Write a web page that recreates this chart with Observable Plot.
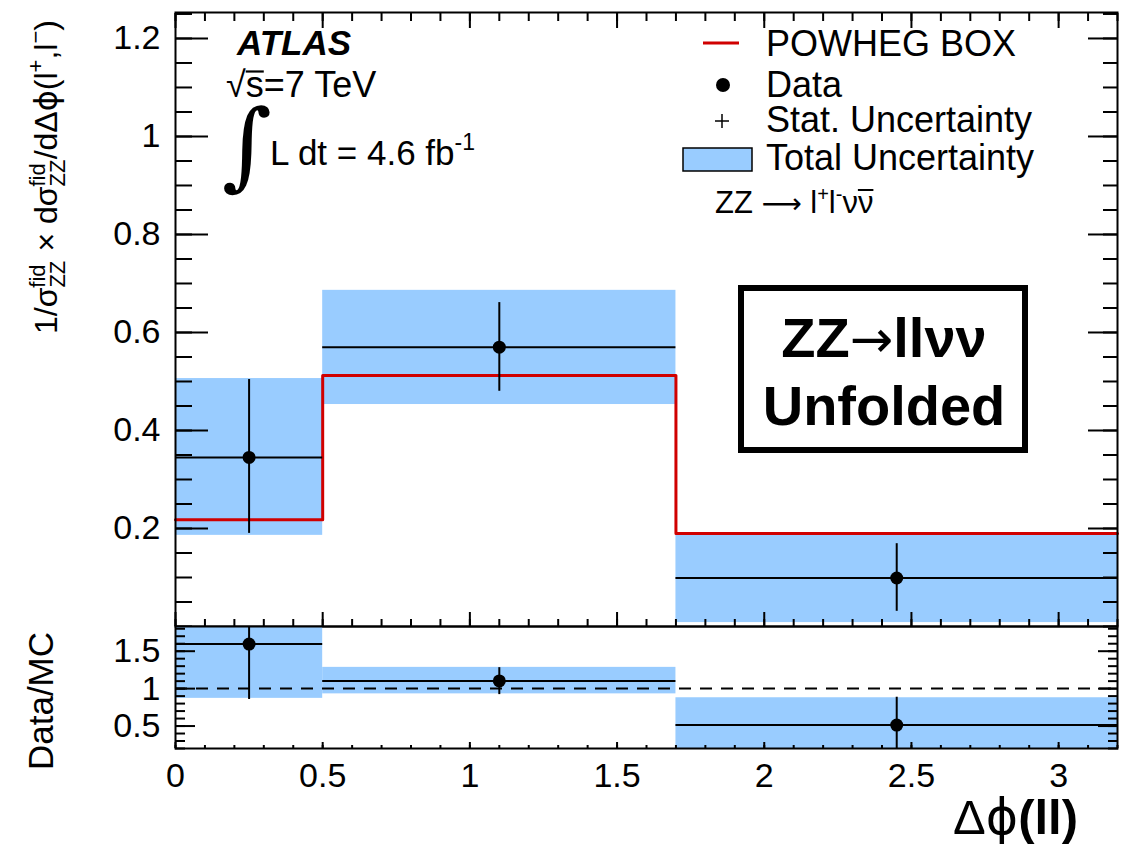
<!DOCTYPE html>
<html><head><meta charset="utf-8">
<script src="https://cdn.jsdelivr.net/npm/d3@7"></script>
<script src="https://cdn.jsdelivr.net/npm/@observablehq/plot@0.6"></script>
<style>
body{margin:0;background:#fff;font-family:"Liberation Sans",Arial,sans-serif;}
#chart{position:relative;width:1131px;height:846px;}
#chart svg{position:absolute;left:0;overflow:visible;}
</style></head><body><div id="chart"></div>
<script>
// ---- data ----
const binEdges = [0, 0.5, 1.7, 3.2];
const binCenters = [0.25, 1.1, 2.45];
const dataValues = [0.345, 0.570, 0.099];
const statLow = [0.190, 0.480, 0.031];
const statHigh = [0.504, 0.661, 0.169];
const totalLow = [0.186, 0.453, 0.008];
const totalHigh = [0.506, 0.686, 0.188];
const powhegValues = [0.218, 0.512, 0.190];
const ratioValues = [1.595, 1.103, 0.513];
const ratioStatLow = [0.855, 0.92, 0.15];
const ratioStatHigh = [2.33, 1.28, 0.885];
const ratioTotalLow = [0.87, 0.93, 0.05];
const ratioTotalHigh = [2.32, 1.284, 0.878];
const xTickValues = [0, 0.5, 1, 1.5, 2, 2.5, 3];
const xTickLabels = ["0", "0.5", "1", "1.5", "2", "2.5", "3"];
const yTickValues = [0.2, 0.4, 0.6, 0.8, 1, 1.2];
const yTickLabels = ["0.2", "0.4", "0.6", "0.8", "1", "1.2"];
const ratioTickValues = [0.5, 1, 1.5];
const ratioTickLabels = ["0.5", "1", "1.5"];

const FONT = '"Liberation Sans", Arial, Helvetica, sans-serif';
const BAND = "#99ccff";
const RED = "#d00000";
const W = 1131;

const bins = binCenters.map((c, i) => ({
  x1: binEdges[i], x2: binEdges[i + 1], x: c,
  v: dataValues[i], sl: statLow[i], sh: statHigh[i], tl: totalLow[i], th: totalHigh[i],
  r: ratioValues[i], rsl: ratioStatLow[i], rsh: ratioStatHigh[i], rtl: ratioTotalLow[i], rth: ratioTotalHigh[i]
}));
const powLine = binEdges.map((e, i) => ({x: e, y: powhegValues[Math.min(i, powhegValues.length - 1)]}));

const xMinor = d3.range(0, 33).map(i => i / 10);
const yMinor = d3.range(0, 26).map(i => i * 0.05);
const rMinor = d3.range(2, 19).map(i => i / 10);

const fmt = (vals, labels) => d => labels[vals.indexOf(d)];

const tickAxis = (axis, ticks, anchor, size) =>
  axis(ticks, {anchor, tickSize: -size, fill: "none", label: null, strokeWidth: 2});

// ---- upper panel ----
const upper = Plot.plot({
  width: W, height: 628, marginTop: 12, marginBottom: 2, marginLeft: 175, marginRight: 14,
  style: {background: "transparent", overflow: "visible", fontFamily: FONT},
  x: {domain: [0, 3.2]},
  y: {domain: [0, 1.253]},
  marks: [
    Plot.rect(bins, {x1: "x1", x2: "x2", y1: "tl", y2: "th", fill: BAND}),
    Plot.line(powLine, {x: "x", y: "y", curve: "step-after", stroke: RED, strokeWidth: 3}),
    Plot.ruleY(bins, {x1: "x1", x2: "x2", y: "v", stroke: "black", strokeWidth: 2}),
    Plot.ruleX(bins, {x: "x", y1: "sl", y2: "sh", stroke: "black", strokeWidth: 2}),
    Plot.dot(bins, {x: "x", y: "v", r: 6.5, fill: "black"}),
    tickAxis(Plot.axisY, yTickValues, "left", 33),
    tickAxis(Plot.axisY, yMinor, "left", 17),
    tickAxis(Plot.axisY, yTickValues, "right", 30),
    tickAxis(Plot.axisY, yMinor, "right", 15),
    tickAxis(Plot.axisX, xTickValues, "top", 15),
    tickAxis(Plot.axisX, xMinor, "top", 8),
    tickAxis(Plot.axisX, xTickValues, "bottom", 14),
    tickAxis(Plot.axisX, xMinor, "bottom", 7),
    Plot.axisY(yTickValues, {anchor: "left", tickSize: 0, tickPadding: 15, label: null,
      tickFormat: fmt(yTickValues, yTickLabels), fontSize: 34}),
    Plot.frame({stroke: "black", strokeWidth: 2})
  ]
});
upper.style.top = "0px";

// ---- lower (ratio) panel ----
const lower = Plot.plot({
  width: W, height: 222, marginTop: 2, marginBottom: 98, marginLeft: 175, marginRight: 14,
  style: {background: "transparent", overflow: "visible", fontFamily: FONT},
  x: {domain: [0, 3.2]},
  y: {domain: [0.2, 1.83]},
  marks: [
    Plot.rect(bins, {x1: "x1", x2: "x2", y1: "rtl", y2: "rth", fill: BAND, clip: true}),
    Plot.ruleY([1], {stroke: "black", strokeWidth: 2, strokeDasharray: "12,9"}),
    Plot.ruleY(bins, {x1: "x1", x2: "x2", y: "r", stroke: "black", strokeWidth: 2}),
    Plot.ruleX(bins, {x: "x", y1: "rsl", y2: "rsh", stroke: "black", strokeWidth: 2, clip: true}),
    Plot.dot(bins, {x: "x", y: "r", r: 6.5, fill: "black"}),
    tickAxis(Plot.axisY, ratioTickValues, "left", 20),
    tickAxis(Plot.axisY, rMinor, "left", 10),
    tickAxis(Plot.axisY, ratioTickValues, "right", 20),
    tickAxis(Plot.axisY, rMinor, "right", 10),
    tickAxis(Plot.axisX, xTickValues, "bottom", 6),
    tickAxis(Plot.axisX, xMinor, "bottom", 3),
    Plot.axisY(ratioTickValues, {anchor: "left", tickSize: 0, tickPadding: 15, label: null,
      tickFormat: fmt(ratioTickValues, ratioTickLabels), fontSize: 34}),
    Plot.axisX(xTickValues, {anchor: "bottom", tickSize: 0, tickPadding: 14, label: null,
      tickFormat: fmt(xTickValues, xTickLabels), fontSize: 34}),
    Plot.frame({stroke: "black", strokeWidth: 2})
  ]
});
lower.style.top = "624px";

const chart = document.getElementById("chart");
chart.appendChild(upper);
chart.appendChild(lower);

// ---- annotations overlay ----
const ov = d3.create("svg").attr("width", W).attr("height", 846)
  .style("top", "0px").style("pointer-events", "none")
  .style("font-family", FONT);
chart.appendChild(ov.node());
const DJ = '"DejaVu Sans", sans-serif';

// draws a bar over character idx of a text element
function overbar(textSel, idx, y, w) {
  const n = textSel.node();
  const a = n.getStartPositionOfChar(idx).x, b = n.getEndPositionOfChar(idx).x;
  ov.append("line").attr("x1", a).attr("x2", b).attr("y1", y).attr("y2", y)
    .attr("stroke", "black").attr("stroke-width", w);
}

// y-axis title (upper)
const yt = ov.append("text").attr("transform", "translate(57,20) rotate(-90)")
  .attr("text-anchor", "end").attr("font-size", 32).attr("fill", "black");
yt.append("tspan").text("1/σ");
yt.append("tspan").attr("font-size", 22).attr("dy", 8).text("ZZ");
yt.append("tspan").attr("font-size", 22).attr("dx", -27).attr("dy", -20).text("fid");
yt.append("tspan").attr("dx", 4).attr("dy", 12).text(" × dσ");
yt.append("tspan").attr("font-size", 22).attr("dy", 8).text("ZZ");
yt.append("tspan").attr("font-size", 22).attr("dx", -27).attr("dy", -20).text("fid");
yt.append("tspan").attr("dx", 4).attr("dy", 12).text("/dΔ");
yt.append("tspan").attr("font-family", DJ).text("ϕ");
yt.append("tspan").text("(l");
yt.append("tspan").attr("font-size", 22).attr("dy", -14).text("+");
yt.append("tspan").attr("dy", 14).text(",l");
yt.append("tspan").attr("font-size", 22).attr("dy", -14).text("−");
yt.append("tspan").attr("dy", 14).text(")");

// ratio y title
ov.append("text").attr("transform", "translate(53,701) rotate(-90)")
  .attr("text-anchor", "middle").attr("font-size", 35).text("Data/MC");

// x title
const xt = ov.append("text").attr("x", 1078).attr("y", 834).attr("text-anchor", "end").attr("font-size", 49);
xt.append("tspan").text("Δ");
xt.append("tspan").attr("font-family", DJ).text("ϕ");
xt.append("tspan").attr("font-weight", "bold").text("(ll)");

// ATLAS label
ov.append("text").attr("x", 237).attr("y", 55).attr("font-size", 35)
  .attr("font-weight", "bold").attr("font-style", "italic").text("ATLAS");
const sq = ov.append("text").attr("x", 226).attr("y", 97).attr("font-size", 36);
sq.append("tspan").text("√s");
sq.append("tspan").text("=7 TeV");
overbar(sq, 1, 71.5, 2.2);
ov.append("text").attr("x", 222).attr("y", 178).attr("font-size", 96)
  .attr("font-family", '"DejaVu Serif", serif').text("∫");
const lum = ov.append("text").attr("x", 270).attr("y", 165).attr("font-size", 35);
lum.append("tspan").text("L dt = 4.6 fb");
lum.append("tspan").attr("font-size", 23).attr("dy", -15).text("-1");

// legend
ov.append("line").attr("x1", 703).attr("x2", 739).attr("y1", 43).attr("y2", 43)
  .attr("stroke", RED).attr("stroke-width", 3);
ov.append("text").attr("x", 766).attr("y", 56).attr("font-size", 36).text("POWHEG BOX");
ov.append("circle").attr("cx", 723).attr("cy", 85).attr("r", 7).attr("fill", "black");
ov.append("text").attr("x", 766).attr("y", 97).attr("font-size", 36).text("Data");
ov.append("path").attr("d", "M715,121h14M722,114v14").attr("stroke", "black").attr("stroke-width", 1.5);
ov.append("text").attr("x", 766).attr("y", 132).attr("font-size", 36).text("Stat. Uncertainty");
ov.append("rect").attr("x", 683).attr("y", 148).attr("width", 69).attr("height", 23)
  .attr("fill", BAND).attr("stroke", "black").attr("stroke-width", 1.5);
ov.append("text").attr("x", 766).attr("y", 170).attr("font-size", 36).text("Total Uncertainty");
const zz = ov.append("text").attr("x", 715).attr("y", 213).attr("font-size", 31);
zz.append("tspan").text("ZZ ");
zz.append("tspan").attr("font-family", DJ).attr("font-size", 28).text("⟶");
zz.append("tspan").text(" l");
zz.append("tspan").attr("font-size", 20).attr("dy", -12).text("+");
zz.append("tspan").attr("dy", 12).text("l");
zz.append("tspan").attr("font-size", 20).attr("dy", -12).text("-");
zz.append("tspan").attr("dy", 12).text("νν");
overbar(zz, zz.node().textContent.length - 1, 190, 2);

// ZZ -> llvv Unfolded box
ov.append("rect").attr("x", 741).attr("y", 288).attr("width", 284).attr("height", 162)
  .attr("fill", "none").attr("stroke", "black").attr("stroke-width", 6);
const t1 = ov.append("text").attr("x", 884).attr("y", 357).attr("text-anchor", "middle")
  .attr("font-size", 56).attr("font-weight", "bold");
t1.append("tspan").text("ZZ");
t1.append("tspan").attr("font-family", DJ).attr("font-weight", "normal").attr("font-size", 52).text("→");
t1.append("tspan").text("llνν");
ov.append("text").attr("x", 884).attr("y", 425).attr("text-anchor", "middle")
  .attr("font-size", 56).attr("font-weight", "bold").text("Unfolded");
</script></body></html>
